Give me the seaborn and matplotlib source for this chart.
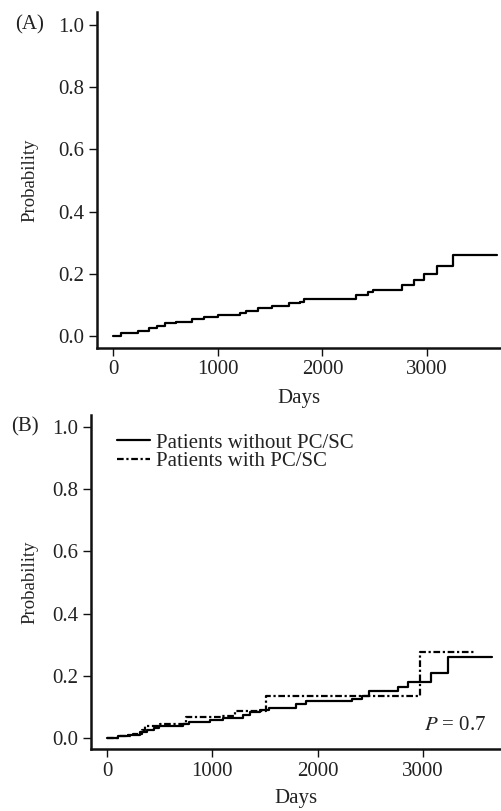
import matplotlib
matplotlib.use("Agg")
import matplotlib.pyplot as plt
import seaborn as sns
import pandas as pd

# ---- data ----
a_days = [0, 80, 242, 339, 419, 500, 597, 758, 871, 1000, 1210, 1274, 1387, 1516,
          1677, 1790, 1823, 2323, 2435, 2484, 2758, 2871, 2974, 3090, 3250, 3670]
a_prob = [0.0, 0.009, 0.017, 0.025, 0.032, 0.041, 0.046, 0.054, 0.060, 0.068, 0.075,
          0.082, 0.089, 0.097, 0.105, 0.110, 0.118, 0.132, 0.140, 0.148, 0.165, 0.181,
          0.200, 0.224, 0.259, 0.259]

b_without_days = [0, 106, 203, 315, 380, 444, 492, 717, 781, 974, 1103, 1296, 1360, 1457,
                  1537, 1794, 1891, 2325, 2421, 2485, 2759, 2855, 3080, 3241, 3659]
b_without_prob = [0.0, 0.005, 0.010, 0.018, 0.025, 0.032, 0.037, 0.046, 0.053, 0.059, 0.064,
                  0.075, 0.082, 0.089, 0.097, 0.110, 0.118, 0.125, 0.134, 0.150, 0.164,
                  0.179, 0.209, 0.260, 0.260]

b_with_days = [0, 120, 250, 330, 365, 500, 749, 1087, 1215, 1505, 2968, 3498]
b_with_prob = [0.0, 0.005, 0.012, 0.025, 0.040, 0.045, 0.066, 0.072, 0.088, 0.134, 0.275, 0.275]

series_labels = ["Patients without PC/SC", "Patients with PC/SC"]
x_ticks = [0, 1000, 2000, 3000]
y_ticks = [0.0, 0.2, 0.4, 0.6, 0.8, 1.0]
p_text = "$P$ = 0.7"

# ---- style ----
sns.set_style("ticks")
plt.rcParams["font.family"] = ["Liberation Serif", "DejaVu Serif"]
plt.rcParams["mathtext.fontset"] = "stix"
FS = 15
TXT = "#222222"

fig = plt.figure(figsize=(5.01, 8.11), dpi=100)
W, H = 501, 811


def px_axes(left, top, right, bottom):
    return fig.add_axes([left / W, 1 - bottom / H, (right - left) / W, (bottom - top) / H])


def style_axis(ax, xlim, ylim, ylabelpad, xlabelpad):
    ax.set_xlim(*xlim)
    ax.set_ylim(*ylim)
    ax.set_xticks(x_ticks)
    ax.set_yticks(y_ticks)
    ax.set_yticklabels([f"{v:.1f}" for v in y_ticks])
    for s in ["top", "right"]:
        ax.spines[s].set_visible(False)
    for s in ["left", "bottom"]:
        ax.spines[s].set_linewidth(1.8)
        ax.spines[s].set_color("#111111")
    ax.tick_params(axis="both", direction="out", length=6, width=1.0, color="#111111",
                   labelsize=FS, labelcolor=TXT, pad=3)
    ax.set_ylabel("Probability", fontsize=13.5, color=TXT, labelpad=ylabelpad)
    ax.set_xlabel("Days", fontsize=FS, color=TXT, labelpad=xlabelpad)


# ---- Panel A ----
axA = px_axes(97, 12, 501, 348)
dfA = pd.DataFrame({"Days": a_days, "Probability": a_prob})
sns.lineplot(data=dfA, x="Days", y="Probability", ax=axA, color="black",
             linewidth=1.6, drawstyle="steps-post", estimator=None)
style_axis(axA, (-153, 3706), (-0.0386, 1.042), ylabelpad=14, xlabelpad=7)
fig.text(15 / W, 1 - 25 / H, "(A)", fontsize=FS, color=TXT, ha="left", va="center")

# ---- Panel B ----
axB = px_axes(91, 415, 501, 749)
dfB = pd.concat([
    pd.DataFrame({"Days": b_without_days, "Probability": b_without_prob,
                  "Group": series_labels[0]}),
    pd.DataFrame({"Days": b_with_days, "Probability": b_with_prob,
                  "Group": series_labels[1]}),
])
sns.lineplot(data=dfB, x="Days", y="Probability", hue="Group", style="Group",
             palette=["black", "black"],
             dashes={series_labels[0]: "", series_labels[1]: (3, 1.2, 1, 1.2)},
             ax=axB, linewidth=1.6, drawstyle="steps-post", estimator=None)
style_axis(axB, (-152, 3741), (-0.0354, 1.0386), ylabelpad=10, xlabelpad=6)
leg = axB.legend(loc="upper left", bbox_to_anchor=(0.063, 0.946), frameon=False,
                 fontsize=FS, handlelength=1.6, handletextpad=0.3, labelspacing=-0.05,
                 borderpad=0, borderaxespad=0)
for t in leg.get_texts():
    t.set_color(TXT)
axB.text((486 - 91) / 410, 1 - (725 - 415) / 334, p_text,
         transform=axB.transAxes, fontsize=FS, color=TXT, ha="right", va="center")
fig.text(11 / W, 1 - 427 / H, "(B)", fontsize=FS, color=TXT, ha="left", va="center")

fig.savefig("out.png", dpi=100)
